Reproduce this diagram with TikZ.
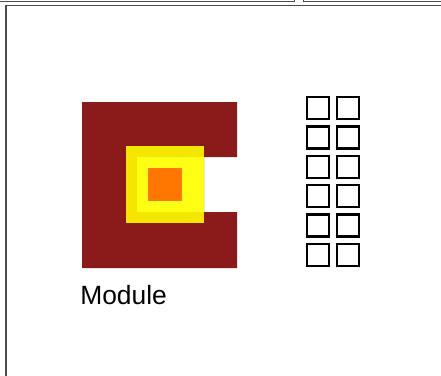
\documentclass[tikz,border=0pt]{standalone}
\usepackage{fontspec}
\setmainfont{Liberation Sans}
\usepackage{xcolor}
\usetikzlibrary{positioning}
\definecolor{modred}{RGB}{139,26,26}
\definecolor{outyel}{RGB}{245,230,0}
\definecolor{inyel}{RGB}{255,255,20}
\definecolor{corange}{RGB}{255,119,0}
\tikzset{
  pane/.style={draw=black!70, line width=1.3pt},
  slot/.style={draw=black, line width=1.7pt, minimum size=#1, inner sep=0pt},
  slot/.default=16.5pt,
  lbl/.style={font=\fontsize{19.8}{24}\selectfont, inner sep=0pt},
}

\begin{document}
\begin{tikzpicture}[x=0.75pt, y=-0.75pt]
  \useasboundingbox (0,0) rectangle (441,375);
  % window edges
  \draw[pane] (-5,1.5) -- (294.5,1.5) -- (294.5,-5);
  \draw[pane] (450,1.5) -- (303.5,1.5) -- (303.5,-5);
  \draw[pane] (6,380) -- (6,5.5) -- (450,5.5);
  % module body
  \fill[modred] (82,102) -- (237,102) -- (237,157) -- (204,157)
                -- (204,212) -- (237,212) -- (237,268) -- (82,268) -- cycle;
  \fill[outyel] (126,146) rectangle (204,223);
  \fill[inyel] (137,157) rectangle (204,212);
  \fill[corange] (148,168) rectangle (182,201);
  \node[lbl, anchor=base west] (modlbl) at (80,304) {Module};
  % pin slots
  \foreach \r in {0,...,5} {
    \foreach \c/\x in {0/318, 1/348} {
      \node[slot] (s\r\c) at (\x, 108+29.4*\r) {};
    }
  }
\end{tikzpicture}
\end{document}
